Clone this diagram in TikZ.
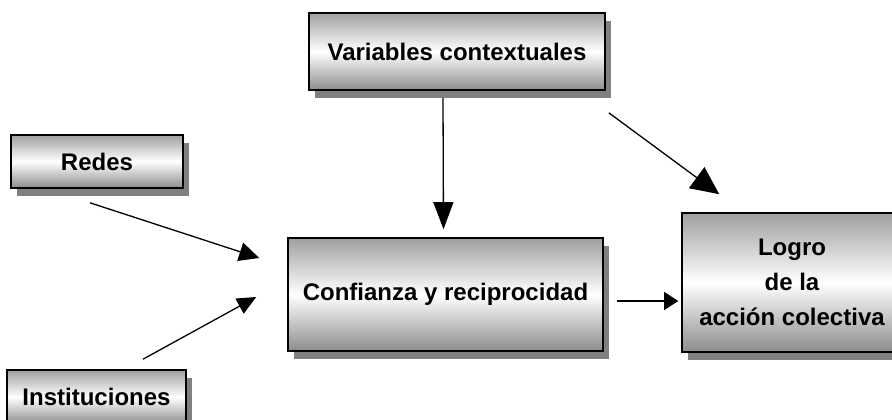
\documentclass[tikz,border=0pt]{standalone}
\usepackage{fontspec}
\setmainfont{Liberation Sans}
\usetikzlibrary{arrows.meta,shadows}

\tikzset{
  box/.style 2 args={draw, line width=1.6pt, minimum width=#1, minimum height=#2,
    inner sep=0pt, align=center, top color=gray!75, bottom color=gray!90, middle color=white,
    general shadow={fill=gray, shadow xshift=6pt, shadow yshift=-8pt},
    font=\fontsize{24}{35}\selectfont\bfseries},
  arr/.style 2 args={line width=1.3pt, -{Triangle[length=#1, width=#2]}}
}

\begin{document}
\begin{tikzpicture}[x=1pt, y=-1pt]
  \useasboundingbox (0,0) rectangle (892,420);
  \clip (0,0) rectangle (892,420);
  \node[box={296pt}{77pt}] (vars) at (457,51.5) {Variables contextuales};
  \node[box={172pt}{53pt}] (redes) at (97,161.5) {Redes};
  \node[box={315pt}{113pt}] (conf) at (445.5,294.5) {Confianza y reciprocidad};
  \node[box={220pt}{139pt}] (logro) at (792,282.5) {Logro\\de la\\acción colectiva};
  \node[box={179pt}{54pt}] (inst) at (96.5,397) {Instituciones};
  \draw[arr={27pt}{20pt}] ([xshift=-14pt, yshift=-7pt]vars.south) -- ([xshift=-2pt, yshift=8pt]conf.north);
  \draw[arr={28pt}{26pt}] ([xshift=3pt, yshift=-22pt]vars.south east) -- ([xshift=38pt, yshift=18pt]logro.north west);
  \draw[arr={20pt}{19pt}] ([xshift=-7pt, yshift=-14pt]redes.south) -- ([xshift=-28pt, yshift=36.5pt]conf.west);
  \draw[arr={19pt}{17pt}] ([xshift=46.5pt, yshift=10pt]inst.north) -- ([xshift=-31pt, yshift=-2.5pt]conf.west);
  \draw[arr={14pt}{18pt}] ([xshift=13pt, yshift=-6.5pt]conf.east) -- ([xshift=-3pt, yshift=-18.5pt]logro.west);
\end{tikzpicture}
\end{document}
